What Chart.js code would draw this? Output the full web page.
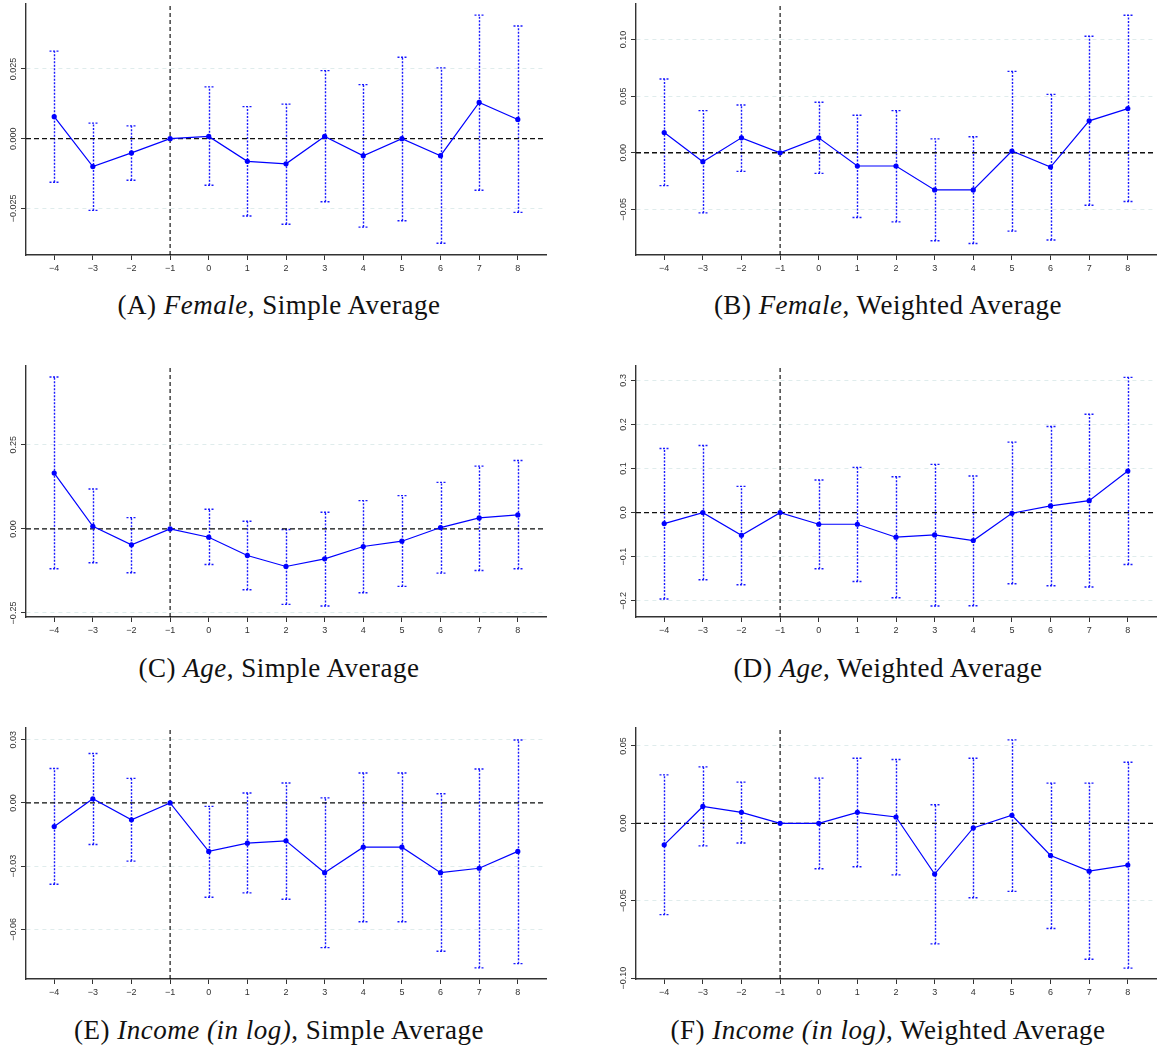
<!DOCTYPE html>
<html>
<head>
<meta charset="utf-8">
<script src="https://cdn.jsdelivr.net/npm/chart.js@4.4.0/dist/chart.umd.min.js"></script>
<style>
    html, body { margin: 0; padding: 0; background: #fff; overflow: hidden; }
    body { width: 1161px; height: 1048px; position: relative; }
    .panel { position: absolute; width: 552px; height: 290px; }
    .caption { position: absolute; width: 600px; text-align: center; font-family: "Liberation Serif", "DejaVu Serif", serif; font-size: 27px; letter-spacing: 0.5px; line-height: 30px; color: #111; }
</style>
</head>
<body>
<div class="panel" style="left:0px;top:0px"><canvas id="chartA"></canvas></div>
<div class="panel" style="left:610px;top:0px"><canvas id="chartB"></canvas></div>
<div class="panel" style="left:0px;top:362px"><canvas id="chartC"></canvas></div>
<div class="panel" style="left:610px;top:362px"><canvas id="chartD"></canvas></div>
<div class="panel" style="left:0px;top:724px"><canvas id="chartE"></canvas></div>
<div class="panel" style="left:610px;top:724px"><canvas id="chartF"></canvas></div>

<div class="caption" style="left:-21px;top:290px">(A) <i>Female</i>, Simple Average</div>
<div class="caption" style="left:588px;top:290px">(B) <i>Female</i>, Weighted Average</div>
<div class="caption" style="left:-21px;top:653px">(C) <i>Age</i>, Simple Average</div>
<div class="caption" style="left:588px;top:653px">(D) <i>Age</i>, Weighted Average</div>
<div class="caption" style="left:-21px;top:1015px">(E) <i>Income (in log)</i>, Simple Average</div>
<div class="caption" style="left:588px;top:1015px">(F) <i>Income (in log)</i>, Weighted Average</div>

<script>
// --- DADOS ---
const periods = [-4, -3, -2, -1, 0, 1, 2, 3, 4, 5, 6, 7, 8];

const femaleSimpleEst = [0.0079, -0.0100, -0.0051, 0, 0.0008, -0.0081, -0.0090, 0.0008, -0.0061, 0.0000, -0.0061, 0.0130, 0.0069];
const femaleSimpleLo  = [-0.0156, -0.0257, -0.0149, null, -0.0167, -0.0277, -0.0307, -0.0226, -0.0317, -0.0294, -0.0375, -0.0185, -0.0264];
const femaleSimpleHi  = [0.0314, 0.0056, 0.0046, null, 0.0186, 0.0115, 0.0124, 0.0244, 0.0194, 0.0292, 0.0254, 0.0443, 0.0404];

const femaleWeightedEst = [0.0179, -0.0079, 0.0132, 0, 0.0132, -0.0117, -0.0117, -0.0328, -0.0328, 0.0015, -0.0126, 0.0282, 0.0390];
const femaleWeightedLo  = [-0.0290, -0.0531, -0.0164, null, -0.0182, -0.0572, -0.0610, -0.0777, -0.0801, -0.0692, -0.0771, -0.0463, -0.0431];
const femaleWeightedHi  = [0.0651, 0.0372, 0.0422, null, 0.0446, 0.0331, 0.0372, 0.0123, 0.0141, 0.0719, 0.0516, 0.1029, 0.1214];

const ageSimpleEst = [0.1660, 0.0079, -0.0474, 0, -0.0247, -0.0790, -0.1117, -0.0889, -0.0524, -0.0366, 0.0040, 0.0326, 0.0415];
const ageSimpleLo  = [-0.1186, -0.1008, -0.1304, null, -0.1057, -0.1808, -0.2243, -0.2292, -0.1897, -0.1709, -0.1314, -0.1235, -0.1186];
const ageSimpleHi  = [0.4515, 0.1186, 0.0336, null, 0.0583, 0.0227, -0.0020, 0.0494, 0.0840, 0.0988, 0.1383, 0.1867, 0.2035];

const ageWeightedEst = [-0.0249, 0.0000, -0.0513, 0, -0.0264, -0.0264, -0.0558, -0.0505, -0.0633, -0.0015, 0.0151, 0.0271, 0.0943];
const ageWeightedLo  = [-0.1961, -0.1523, -0.1637, null, -0.1275, -0.1561, -0.1931, -0.2119, -0.2112, -0.1614, -0.1659, -0.1689, -0.1176];
const ageWeightedHi  = [0.1456, 0.1523, 0.0596, null, 0.0739, 0.1026, 0.0814, 0.1094, 0.0830, 0.1599, 0.1953, 0.2232, 0.3069];

const incomeSimpleEst = [-0.0112, 0.0020, -0.0080, 0, -0.0230, -0.0191, -0.0180, -0.0331, -0.0210, -0.0210, -0.0331, -0.0310, -0.0230];
const incomeSimpleLo  = [-0.0386, -0.0197, -0.0276, null, -0.0448, -0.0427, -0.0457, -0.0687, -0.0564, -0.0564, -0.0704, -0.0783, -0.0763];
const incomeSimpleHi  = [0.0164, 0.0235, 0.0117, null, -0.0016, 0.0047, 0.0095, 0.0024, 0.0142, 0.0142, 0.0044, 0.0161, 0.0299];

const incomeWeightedEst = [-0.0139, 0.0109, 0.0071, 0, 0.0000, 0.0071, 0.0041, -0.0328, -0.0030, 0.0052, -0.0208, -0.0309, -0.0270];
const incomeWeightedLo  = [-0.0590, -0.0146, -0.0127, null, -0.0294, -0.0281, -0.0333, -0.0779, -0.0481, -0.0440, -0.0680, -0.0878, -0.0936];
const incomeWeightedHi  = [0.0313, 0.0365, 0.0266, null, 0.0292, 0.0421, 0.0412, 0.0120, 0.0421, 0.0539, 0.0260, 0.0260, 0.0395];

// marcas do eixo y de cada painel
const yTicksA = [-0.025, 0, 0.025];
const yLabelsA = ['\u22120.025', '0.000', '0.025'];
const yTicksB = [-0.05, 0, 0.05, 0.10];
const yLabelsB = ['\u22120.05', '0.00', '0.05', '0.10'];
const yTicksC = [-0.25, 0, 0.25];
const yLabelsC = ['\u22120.25', '0.00', '0.25'];
const yTicksD = [-0.2, -0.1, 0, 0.1, 0.2, 0.3];
const yLabelsD = ['\u22120.2', '\u22120.1', '0.0', '0.1', '0.2', '0.3'];
const yTicksE = [-0.06, -0.03, 0, 0.03];
const yLabelsE = ['\u22120.06', '\u22120.03', '0.00', '0.03'];
const yTicksF = [-0.10, -0.05, 0, 0.05];
const yLabelsF = ['\u22120.10', '\u22120.05', '0.00', '0.05'];

// --- CONFIGURAÇÃO COMUM ---
const X_MIN = -4.73, X_MAX = 8.73;
const AXIS_FONT = '"Liberation Sans", Arial, sans-serif';
const BLUE = '#0000ff';

// barras de erro pontilhadas (desenhadas com as escalas do gráfico)
const errorBarPlugin = {
    id: 'errorBars',
    beforeDatasetsDraw(chart, args, opts) {
        const { ctx, scales: { x, y } } = chart;
        ctx.save();
        ctx.strokeStyle = '#1a1aff';
        ctx.lineWidth = 1.4;
        ctx.setLineDash([2, 1.5]);
        opts.lo.forEach((lo, i) => {
            const hi = opts.hi[i];
            if (lo == null || hi == null) return;
            const px = Math.round(x.getPixelForValue(periods[i])) + 0.5;
            const pLo = y.getPixelForValue(lo);
            const pHi = y.getPixelForValue(hi);
            ctx.beginPath();
            ctx.moveTo(px, pLo); ctx.lineTo(px, pHi);
            ctx.moveTo(px - 5, pLo); ctx.lineTo(px + 5, pLo);
            ctx.moveTo(px - 5, pHi); ctx.lineTo(px + 5, pHi);
            ctx.stroke();
        });
        ctx.restore();
    }
};

// rótulos do eixo y na vertical, como no original
const yLabelPlugin = {
    id: 'yLabels',
    afterDraw(chart, args, opts) {
        const { ctx, scales: { y } } = chart;
        ctx.save();
        ctx.font = '9px ' + AXIS_FONT;
        ctx.fillStyle = '#333';
        ctx.textAlign = 'center';
        ctx.textBaseline = 'middle';
        opts.values.forEach((v, i) => {
            ctx.save();
            ctx.translate(y.right - 12.5, y.getPixelForValue(v));
            ctx.rotate(-Math.PI / 2);
            ctx.fillText(opts.labels[i], 0, 0);
            ctx.restore();
        });
        ctx.restore();
    }
};

function drawPanel(canvasId, est, lo, hi, yMin, yMax, yTicks, yLabels) {
    const ctx = document.getElementById(canvasId).getContext('2d');
    return new Chart(ctx, {
        type: 'line',
        data: {
            datasets: [
                {
                    data: periods.map((p, i) => ({ x: p, y: est[i] })),
                    borderColor: BLUE, backgroundColor: BLUE,
                    borderWidth: 1.2, pointRadius: 2.6, pointBorderWidth: 0,
                    tension: 0, order: 0
                },
                {
                    data: [{ x: X_MIN, y: 0 }, { x: X_MAX, y: 0 }],
                    borderColor: '#111', borderWidth: 1.3, borderDash: [5, 3],
                    pointRadius: 0, order: 1
                },
                {
                    data: [{ x: -1, y: yMin }, { x: -1, y: yMax }],
                    borderColor: '#000', borderWidth: 1.1, borderDash: [4, 3],
                    pointRadius: 0, order: 2
                }
            ]
        },
        options: {
            responsive: true,
            maintainAspectRatio: false,
            animation: false,
            events: [],
            layout: { padding: { top: 3, right: 6, left: 0, bottom: 0 } },
            plugins: {
                legend: { display: false },
                tooltip: { enabled: false },
                errorBars: { lo, hi },
                yLabels: { values: yTicks, labels: yLabels }
            },
            scales: {
                x: {
                    type: 'linear', min: X_MIN, max: X_MAX,
                    afterBuildTicks: s => { s.ticks = periods.map(v => ({ value: v })); },
                    afterFit: s => { s.height = 35; },
                    grid: { drawOnChartArea: false, tickLength: 5, tickColor: '#333', tickWidth: 1 },
                    border: { color: '#333', width: 1.4 },
                    ticks: {
                        font: { family: AXIS_FONT, size: 9 }, color: '#333', padding: 3,
                        maxRotation: 0, autoSkip: false,
                        callback: v => String(v).replace('-', '\u2212')
                    }
                },
                y: {
                    type: 'linear', min: yMin, max: yMax,
                    afterBuildTicks: s => { s.ticks = yTicks.map(v => ({ value: v })); },
                    afterFit: s => { s.width = 26; },
                    grid: { color: '#dfecec', lineWidth: 1, tickLength: 5, tickColor: '#333', tickWidth: 1, tickBorderDash: [] },
                    border: { color: '#333', width: 1.4, dash: [4, 4] },
                    ticks: { display: false }
                }
            }
        },
        plugins: [errorBarPlugin, yLabelPlugin]
    });
}

// --- PONTO DE ENTRADA ---
drawPanel('chartA', femaleSimpleEst, femaleSimpleLo, femaleSimpleHi, -0.0417, 0.0483, yTicksA, yLabelsA);
drawPanel('chartB', femaleWeightedEst, femaleWeightedLo, femaleWeightedHi, -0.0903, 0.1314, yTicksB, yLabelsB);
drawPanel('chartC', ageSimpleEst, ageSimpleLo, ageSimpleHi, -0.2619, 0.4842, yTicksC, yLabelsC);
drawPanel('chartD', ageWeightedEst, ageWeightedLo, ageWeightedHi, -0.2368, 0.3326, yTicksD, yLabelsD);
drawPanel('chartE', incomeSimpleEst, incomeSimpleLo, incomeSimpleHi, -0.0836, 0.0356, yTicksE, yLabelsE);
drawPanel('chartF', incomeWeightedEst, incomeWeightedLo, incomeWeightedHi, -0.1006, 0.0616, yTicksF, yLabelsF);
</script>
</body>
</html>
